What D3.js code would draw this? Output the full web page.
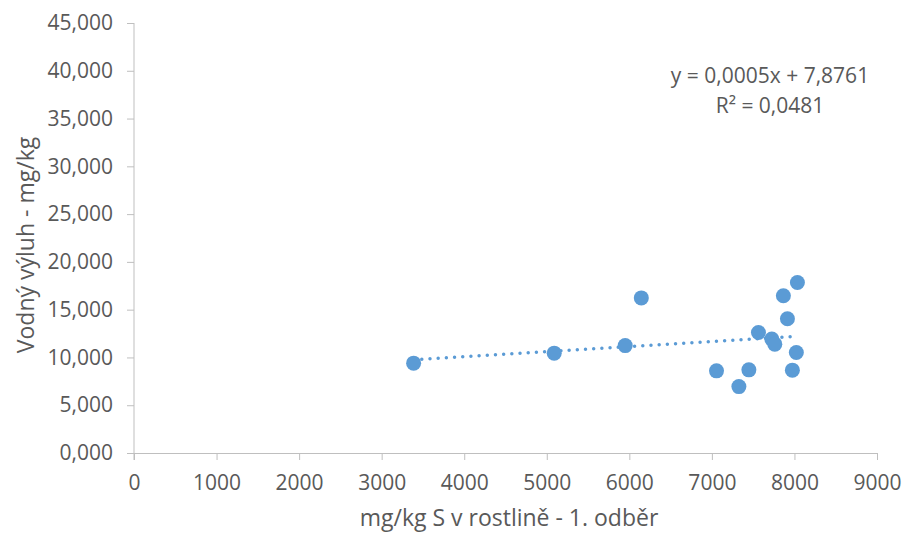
<!DOCTYPE html>
<html>
<head>
<meta charset="utf-8">
<script src="https://cdn.jsdelivr.net/npm/d3@7"></script>
<style>
    body { margin: 0; background: #fff; }
    text { font-family: "Open Sans", sans-serif; fill: #595959; }
    .axis path, .axis line { stroke: #bfbfbf; }
</style>
</head>
<body>
<script>
// values
var sulfurPlant = [3387, 5090, 5950, 6145, 7056, 7327, 7448, 7564, 7726, 7762, 7866, 7915, 7975, 8023, 8036];
var waterExtract = [9.40, 10.45, 11.24, 16.23, 8.60, 6.95, 8.70, 12.61, 11.92, 11.39, 16.46, 14.05, 8.67, 10.51, 17.85];
var xTicks = [0, 1000, 2000, 3000, 4000, 5000, 6000, 7000, 8000, 9000];
var yTicks = [0, 5, 10, 15, 20, 25, 30, 35, 40, 45];
var trendText = ["y = 0,0005x + 7,8761", "R² = 0,0481"];

var data = sulfurPlant.map(function(x, i) { return {x: x, y: waterExtract[i]}; });

var width = 904, height = 536;
var margin = {top: 23, right: 27, bottom: 83, left: 134};

var svg = d3.select("body")
            .append("svg")
            .attr("width", width)
            .attr("height", height);

var xScale = d3.scaleLinear()
                .domain([0, 9000])
                .range([margin.left, width - margin.right]);

var yScale = d3.scaleLinear()
                .domain([0, 45])
                .range([height - margin.bottom, margin.top]);

var cz = d3.formatLocale({decimal: ",", thousands: " ", grouping: [3], currency: ["", ""]});

var xAxis = d3.axisBottom(xScale)
                .tickValues(xTicks)
                .tickFormat(d3.format("d"))
                .tickSizeInner(7)
                .tickSizeOuter(0)
                .tickPadding(15);

var yAxis = d3.axisLeft(yScale)
                .tickValues(yTicks)
                .tickFormat(cz.format(".3f"))
                .tickSizeInner(7)
                .tickSizeOuter(0)
                .tickPadding(14);

// y axis, drawn a bit past the x axis like the original
var gy = svg.append("g")
    .attr("class", "axis")
    .attr("transform", "translate(" + margin.left + ",0)")
    .call(yAxis);
gy.select(".domain").remove();
gy.append("line")
    .attr("x1", 0).attr("x2", 0)
    .attr("y1", yScale(45)).attr("y2", yScale(0) + 7)
    .attr("stroke", "#bfbfbf");

var gx = svg.append("g")
    .attr("class", "axis")
    .attr("transform", "translate(0," + yScale(0) + ")")
    .call(xAxis);

svg.selectAll(".axis text")
    .style("font-size", "21px")
    .style("fill", "#595959")
    .style("font-family", "'Open Sans', sans-serif");

// axis titles
svg.append("text")
    .attr("x", 509)
    .attr("y", 526)
    .attr("text-anchor", "middle")
    .style("font-size", "23px")
    .text("mg/kg S v rostlině - 1. odběr");

svg.append("text")
    .attr("transform", "translate(34,245) rotate(-90)")
    .attr("text-anchor", "middle")
    .style("font-size", "23px")
    .text("Vodný výluh - mg/kg");

// linear trend from the points
var mx = d3.mean(data, function(d) { return d.x; });
var my = d3.mean(data, function(d) { return d.y; });
var slope = d3.sum(data, function(d) { return (d.x - mx) * (d.y - my); }) /
            d3.sum(data, function(d) { return (d.x - mx) * (d.x - mx); });
var icpt = my - slope * mx;
var xExt = d3.extent(data, function(d) { return d.x; });

svg.append("line")
    .attr("x1", xScale(xExt[0]))
    .attr("y1", yScale(slope * xExt[0] + icpt))
    .attr("x2", xScale(xExt[1]))
    .attr("y2", yScale(slope * xExt[1] + icpt))
    .attr("stroke", "#5b9bd5")
    .attr("stroke-width", 3.5)
    .attr("stroke-linecap", "round")
    .attr("stroke-dasharray", "0 8.2");

svg.selectAll("circle")
    .data(data)
    .enter()
    .append("circle")
    .attr("cx", function(d) { return xScale(d.x); })
    .attr("cy", function(d) { return yScale(d.y); })
    .attr("r", 7.5)
    .attr("fill", "#5b9bd5");

// trend equation
svg.selectAll(".trend")
    .data(trendText)
    .enter()
    .append("text")
    .attr("class", "trend")
    .attr("x", 770)
    .attr("y", function(d, i) { return 83 + i * 30; })
    .attr("text-anchor", "middle")
    .style("font-size", "21px")
    .text(function(d) { return d; });
</script>
</body>
</html>
